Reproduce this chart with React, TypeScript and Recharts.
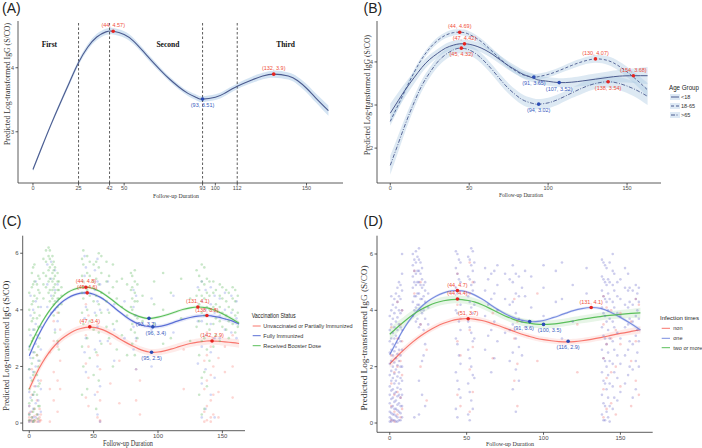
import React from 'react';
import { ComposedChart, XAxis, YAxis, Line, Area, Scatter, ReferenceLine } from 'recharts';

const W = 702;
const H = 448;
const SANS = "'Liberation Sans', Arial, sans-serif";
const SERIF = "'Liberation Serif', 'Times New Roman', serif";

// ---------------- Panel A ----------------
const xA = [0, 5, 10, 15, 20, 25, 30, 35, 40, 44, 50, 55, 60, 65, 70, 75, 80, 85, 90, 93, 100, 105, 112, 120, 126, 132, 140, 145, 150, 155, 162];
const aFit = [2.41, 2.77, 3.12, 3.45, 3.77, 4.08, 4.32, 4.48, 4.56, 4.57, 4.52, 4.42, 4.27, 4.11, 3.96, 3.82, 3.7, 3.6, 3.53, 3.51, 3.54, 3.6, 3.71, 3.81, 3.87, 3.9, 3.87, 3.8, 3.68, 3.53, 3.33];
const aSe = [0.03, 0.03, 0.03, 0.035, 0.04, 0.04, 0.045, 0.05, 0.05, 0.05, 0.05, 0.05, 0.045, 0.045, 0.04, 0.04, 0.04, 0.04, 0.045, 0.045, 0.045, 0.045, 0.045, 0.05, 0.05, 0.055, 0.055, 0.06, 0.065, 0.07, 0.08];
const aCutpoints = [25, 42, 93, 112];
const aXTicks = [0, 25, 42, 50, 93, 100, 112, 150];
const aYTicks = [3, 4];
const aPeaks = [[44, 4.57], [132, 3.9]];
const aTroughs = [[93, 3.51]];
const aPhaseNames = ['First', 'Second', 'Third'];
const aPhaseX = [9, 74, 138.5];
const aPhaseY = 4.36;

// ---------------- Panel B ----------------
const xB = [0, 5, 10, 15, 20, 25, 30, 35, 40, 44, 47, 50, 55, 60, 65, 70, 75, 80, 85, 91, 94, 100, 107, 115, 122, 130, 138, 145, 154, 163];
const bYoung = [2.81, 3.1, 3.38, 3.63, 3.87, 4.06, 4.2, 4.32, 4.39, 4.42, 4.42, 4.41, 4.36, 4.28, 4.17, 4.04, 3.91, 3.8, 3.7, 3.62, 3.58, 3.55, 3.52, 3.53, 3.56, 3.6, 3.64, 3.67, 3.68, 3.68];
const bYoungSe = [0.22, 0.19, 0.16, 0.14, 0.12, 0.11, 0.1, 0.1, 0.1, 0.1, 0.1, 0.1, 0.1, 0.1, 0.1, 0.1, 0.1, 0.1, 0.1, 0.1, 0.1, 0.1, 0.1, 0.11, 0.12, 0.13, 0.14, 0.15, 0.17, 0.2];
const bAdult = [2.62, 3.0, 3.38, 3.75, 4.07, 4.32, 4.5, 4.62, 4.68, 4.69, 4.68, 4.64, 4.54, 4.4, 4.23, 4.06, 3.9, 3.78, 3.69, 3.65, 3.66, 3.71, 3.8, 3.92, 4.01, 4.07, 4.03, 3.9, 3.65, 3.35];
const bAdultSe = [0.1, 0.09, 0.08, 0.07, 0.07, 0.07, 0.07, 0.07, 0.07, 0.07, 0.07, 0.07, 0.07, 0.07, 0.07, 0.07, 0.07, 0.07, 0.07, 0.07, 0.07, 0.07, 0.07, 0.08, 0.08, 0.09, 0.1, 0.11, 0.13, 0.16];
const bSenior = [1.6, 2.1, 2.6, 3.05, 3.45, 3.75, 4.0, 4.17, 4.28, 4.32, 4.31, 4.28, 4.17, 4.0, 3.8, 3.58, 3.38, 3.22, 3.1, 3.03, 3.02, 3.05, 3.14, 3.28, 3.4, 3.5, 3.54, 3.5, 3.38, 3.2];
const bSeniorSe = [0.22, 0.19, 0.16, 0.14, 0.13, 0.12, 0.12, 0.12, 0.12, 0.12, 0.12, 0.12, 0.12, 0.12, 0.12, 0.12, 0.12, 0.12, 0.12, 0.12, 0.12, 0.12, 0.12, 0.12, 0.13, 0.13, 0.14, 0.15, 0.17, 0.2];
const bXTicks = [0, 50, 100, 150];
const bYTicks = [2, 3, 4];
const bPeaks = [[44, 4.69], [47, 4.42], [45, 4.32], [130, 4.07], [154, 3.68], [138, 3.54]];
const bTroughs = [[91, 3.65], [107, 3.52], [94, 3.02]];
const bGroups = ['<18', '18-65', '>65'];

// ---------------- Panel C ----------------
const xC = [0, 5, 10, 15, 20, 25, 30, 35, 40, 44, 47, 50, 55, 60, 65, 70, 75, 80, 85, 90, 93, 96, 100, 105, 110, 115, 120, 125, 131, 138, 142, 147, 152, 158, 163];
const cBooster = [2.68, 3.15, 3.57, 3.93, 4.22, 4.45, 4.62, 4.73, 4.79, 4.8, 4.79, 4.75, 4.65, 4.5, 4.33, 4.15, 3.99, 3.86, 3.77, 3.71, 3.7, 3.71, 3.74, 3.8, 3.87, 3.95, 4.02, 4.07, 4.1, 4.07, 4.02, 3.93, 3.82, 3.67, 3.53];
const cBoosterSe = [0.09, 0.08, 0.07, 0.06, 0.05, 0.05, 0.05, 0.05, 0.05, 0.05, 0.05, 0.05, 0.05, 0.05, 0.05, 0.05, 0.05, 0.05, 0.05, 0.05, 0.05, 0.05, 0.05, 0.05, 0.05, 0.05, 0.05, 0.05, 0.05, 0.05, 0.05, 0.06, 0.06, 0.07, 0.08];
const cFull = [2.38, 2.9, 3.35, 3.73, 4.03, 4.26, 4.42, 4.53, 4.59, 4.6, 4.59, 4.55, 4.45, 4.3, 4.12, 3.93, 3.76, 3.61, 3.5, 3.43, 3.41, 3.4, 3.41, 3.45, 3.52, 3.6, 3.67, 3.73, 3.78, 3.8, 3.78, 3.74, 3.68, 3.6, 3.5];
const cFullSe = [0.1, 0.09, 0.08, 0.07, 0.06, 0.06, 0.06, 0.06, 0.06, 0.06, 0.06, 0.06, 0.06, 0.06, 0.06, 0.06, 0.07, 0.07, 0.07, 0.07, 0.07, 0.07, 0.07, 0.07, 0.07, 0.07, 0.07, 0.07, 0.07, 0.07, 0.07, 0.07, 0.08, 0.08, 0.09];
const cUnvax = [1.2, 1.7, 2.12, 2.47, 2.75, 2.97, 3.13, 3.26, 3.34, 3.38, 3.39, 3.38, 3.33, 3.24, 3.12, 2.98, 2.85, 2.73, 2.62, 2.54, 2.51, 2.5, 2.51, 2.55, 2.61, 2.68, 2.75, 2.81, 2.86, 2.9, 2.9, 2.89, 2.87, 2.84, 2.81];
const cUnvaxSe = [0.16, 0.15, 0.14, 0.13, 0.12, 0.12, 0.12, 0.12, 0.12, 0.12, 0.12, 0.12, 0.12, 0.12, 0.12, 0.12, 0.12, 0.12, 0.12, 0.12, 0.12, 0.12, 0.12, 0.12, 0.13, 0.13, 0.13, 0.13, 0.13, 0.13, 0.13, 0.13, 0.14, 0.14, 0.15];
const cXTicks = [0, 50, 100, 150];
const cYTicks = [0, 2, 4, 6];
const cPeaks = [[44, 4.8], [45, 4.6], [47, 3.4], [131, 4.1], [138, 3.8], [142, 2.9]];
const cTroughs = [[93, 3.7], [96, 3.4], [95, 2.5]];
const cStatuses = ['Unvaccinated or Partially Immunized', 'Fully Immunized', 'Received Booster Dose'];
const cGreenCols: [number, number[]][] = [
  [0, [0.1, 0.3, 0.7, 1.2, 1.9, 2.6, 3.3, 4.0, 4.6]],
  [2, [0.2, 0.8, 1.5, 2.1, 2.9, 3.6, 4.2, 4.8, 5.3]],
  [3, [0.05, 0.4, 1.0, 1.7, 2.3, 3.0, 3.7, 4.3, 4.9, 5.5]],
  [4, [0.1, 0.5, 1.1, 1.8, 2.5, 3.3, 3.9, 4.5, 5.0, 5.6]],
  [6, [0.3, 1.0, 1.7, 2.4, 3.1, 3.7, 4.4, 4.9]],
  [7, [0.15, 0.6, 1.3, 2.0, 2.7, 3.4, 4.1, 4.7, 5.2]],
  [8, [0.6, 1.4, 2.2, 3.0, 3.8, 4.6, 5.1]],
  [11, [4.4, 4.9, 5.3, 5.8]],
  [13, [4.8, 5.2, 5.7, 6.1]],
  [15, [4.6, 5.0, 5.4, 5.9, 6.2]],
  [16, [4.3, 4.7, 5.1, 5.5, 5.8, 6.1]],
  [18, [4.4, 4.7, 5.0, 5.3, 5.6, 5.9]],
  [19, [3.8, 4.2, 4.5, 4.8, 5.1, 5.4, 5.7]],
  [20, [3.2, 4.3, 4.6, 4.9, 5.2, 5.5]],
  [22, [2.9, 4.1, 4.4, 4.7, 5.0, 5.3]],
  [23, [2.6, 3.9, 4.4, 4.7, 5.0]],
  [25, [4.2, 4.5, 4.8]],
  [41, [1.0, 2.7, 3.9, 4.6, 5.2, 5.8]],
  [42, [2.0, 3.5, 4.4, 5.0, 5.6, 6.1]],
  [45, [1.2, 3.0, 4.0, 4.7, 5.3, 5.9]],
  [47, [2.3, 3.6, 4.5, 5.2, 5.7]],
  [50, [1.7, 3.3, 4.3, 5.0, 5.6]],
  [52, [0.5, 2.5, 3.8, 4.5, 5.1, 5.7]],
  [54, [1.5, 3.2, 4.2, 4.9, 5.5, 6.0]],
  [56, [2.8, 3.9, 4.6, 5.3, 5.9]],
  [60, [3.4, 4.3, 5.0, 5.7]],
  [62, [3.0, 3.9, 4.6, 5.2]],
  [65, [2.0, 3.5, 4.8, 5.6]],
  [68, [2.6, 3.6, 4.4, 5.0]],
  [72, [3.1, 4.1, 5.1]],
  [76, [2.4, 3.8, 4.9]],
  [79, [3.3, 4.1, 4.7, 5.3]],
  [80, [2.8, 3.5, 4.0, 4.4, 4.8, 5.2]],
  [82, [2.4, 3.2, 3.8, 4.3, 4.6, 5.0, 5.4]],
  [84, [3.0, 3.7, 4.3, 4.9]],
  [88, [3.6, 4.5]],
  [97, [3.5, 4.2, 5.0]],
  [104, [2.8, 4.0, 5.3]],
  [110, [3.0, 4.6]],
  [118, [3.7, 5.1]],
  [125, [2.9, 4.4]],
  [130, [3.4, 4.5, 5.4]],
  [132, [1.0, 2.4, 3.6, 4.2, 4.7, 5.2]],
  [134, [0.3, 1.6, 2.9, 3.9, 4.5, 5.0, 5.6]],
  [136, [0.5, 1.8, 3.0, 3.8, 4.4, 4.9, 5.5]],
  [138, [1.3, 2.6, 3.5, 4.1, 4.6, 5.1]],
  [140, [2.2, 3.3, 4.0, 4.5, 5.0]],
  [143, [2.7, 3.5, 4.1, 4.6, 5.0]],
  [145, [3.1, 3.7, 4.2, 4.7]],
  [148, [2.9, 3.6, 4.1, 4.5, 4.9]],
  [150, [3.4, 3.9, 4.4, 4.8]],
  [153, [3.3, 3.8, 4.3, 4.7]],
  [155, [3.0, 3.6, 4.1, 4.6]],
  [158, [3.5, 4.0, 4.4, 4.8]],
  [160, [3.2, 3.8, 4.3, 4.7]],
  [162, [3.4, 3.9, 4.5]],
];
const cBlueCols: [number, number[]][] = [
  [0, [0.05, 0.3, 0.6, 1.1, 1.9, 2.7]],
  [1, [0.1, 0.4, 0.9, 1.6, 2.3, 3.1, 3.8, 4.5]],
  [3, [0.05, 0.2, 0.5, 1.0, 1.8, 2.5, 3.3, 4.0]],
  [5, [0.2, 0.7, 1.3, 2.0, 2.8, 3.5, 4.3, 5.0]],
  [7, [0.05, 0.3, 0.8, 1.5, 2.2]],
  [9, [0.4, 1.2, 2.6, 3.4, 4.1]],
  [14, [4.1, 4.9, 5.6]],
  [17, [3.9, 4.5, 5.1, 5.7]],
  [20, [3.3, 4.0, 4.7, 5.4]],
  [22, [2.8, 3.6, 4.3, 4.9]],
  [43, [2.5, 3.7, 4.6, 5.2, 5.9]],
  [44, [1.8, 3.0, 4.1, 4.8, 5.5]],
  [51, [1.0, 2.6, 3.9, 4.7, 5.4]],
  [53, [0.3, 2.0, 3.4, 4.3, 5.0, 5.8]],
  [55, [0.05, 1.3, 2.9, 4.0, 4.9]],
  [61, [2.9, 4.0, 5.0]],
  [66, [2.2, 3.3, 4.2]],
  [74, [3.0, 4.3]],
  [81, [2.6, 3.4, 4.1, 4.7]],
  [83, [1.9, 3.0, 3.8, 4.5]],
  [95, [2.0, 3.3, 4.4]],
  [112, [3.2, 4.5]],
  [131, [2.1, 3.6, 4.8]],
  [134, [0.2, 1.4, 2.7, 3.6, 4.3, 5.0]],
  [137, [0.5, 1.9, 3.1, 4.0, 4.7]],
  [141, [1.0, 2.5, 3.5, 4.2, 4.8]],
  [144, [0.2, 1.6, 3.0, 3.9, 4.5]],
  [148, [3.0, 3.8, 4.4]],
  [152, [3.3, 4.0, 4.6]],
  [157, [3.2, 3.9, 4.5]],
  [161, [3.0, 3.7, 4.3]],
];
const cRedCols: [number, number[]][] = [
  [0, [0.05, 0.1, 0.2, 0.35, 0.6]],
  [2, [0.05, 0.1, 0.2, 0.4, 1.0, 1.9]],
  [4, [0.05, 0.1, 0.25, 0.5, 1.3]],
  [6, [0.05, 0.15, 0.3, 0.8, 2.4]],
  [8, [0.05, 0.1, 0.2, 0.5]],
  [9, [0.1, 0.3, 1.5]],
  [16, [0.05, 1.2, 2.5]],
  [19, [0.8, 1.8, 2.9, 3.6]],
  [22, [0.4, 1.5, 2.7, 3.9]],
  [24, [1.2, 2.2, 3.3]],
  [44, [0.9, 2.1, 3.1, 4.2]],
  [46, [0.6, 1.6, 2.7, 3.8]],
  [53, [0.2, 1.1, 2.4, 3.5]],
  [55, [0.05, 0.1, 0.8, 1.9]],
  [63, [1.4, 2.8]],
  [70, [0.7, 2.2]],
  [83, [0.8, 1.9, 2.9]],
  [86, [0.3, 1.5]],
  [120, [1.2, 2.6]],
  [136, [0.05, 0.4, 1.2, 2.2]],
  [138, [0.1, 0.6, 1.5, 2.4, 3.2]],
  [141, [0.05, 0.2, 0.8, 1.7, 2.7]],
  [143, [0.3, 1.0, 2.0, 3.0]],
  [147, [0.2, 1.1, 2.3]],
  [152, [1.8, 2.7]],
  [158, [0.9, 2.0, 3.1]],
];

// ---------------- Panel D ----------------
const xD = [0, 5, 10, 15, 20, 25, 30, 35, 40, 44, 47, 51, 55, 60, 65, 70, 75, 80, 85, 91, 95, 100, 105, 110, 116, 120, 125, 131, 137, 143, 150, 157, 163];
const dOne = [2.42, 2.95, 3.42, 3.8, 4.1, 4.33, 4.5, 4.62, 4.69, 4.7, 4.69, 4.64, 4.55, 4.4, 4.22, 4.04, 3.88, 3.75, 3.66, 3.6, 3.6, 3.64, 3.72, 3.81, 3.93, 4.0, 4.06, 4.1, 4.07, 3.95, 3.75, 3.52, 3.3];
const dOneSe = [0.08, 0.07, 0.06, 0.06, 0.05, 0.05, 0.05, 0.05, 0.05, 0.05, 0.05, 0.05, 0.05, 0.05, 0.05, 0.05, 0.05, 0.05, 0.05, 0.05, 0.05, 0.05, 0.05, 0.05, 0.05, 0.05, 0.05, 0.05, 0.05, 0.05, 0.06, 0.07, 0.08];
const dTwo = [3.15, 3.4, 3.63, 3.84, 4.02, 4.16, 4.27, 4.34, 4.38, 4.39, 4.38, 4.35, 4.3, 4.2, 4.07, 3.93, 3.8, 3.69, 3.6, 3.54, 3.51, 3.5, 3.51, 3.54, 3.59, 3.63, 3.68, 3.73, 3.78, 3.82, 3.86, 3.89, 3.91];
const dTwoSe = [0.22, 0.2, 0.18, 0.16, 0.15, 0.14, 0.14, 0.14, 0.14, 0.14, 0.14, 0.14, 0.14, 0.14, 0.14, 0.14, 0.14, 0.14, 0.14, 0.14, 0.14, 0.14, 0.14, 0.14, 0.14, 0.14, 0.14, 0.14, 0.14, 0.14, 0.15, 0.16, 0.18];
const dNon = [2.1, 2.38, 2.64, 2.88, 3.09, 3.27, 3.42, 3.54, 3.63, 3.68, 3.7, 3.71, 3.69, 3.64, 3.56, 3.47, 3.37, 3.27, 3.17, 3.07, 3.01, 2.96, 2.92, 2.89, 2.88, 2.89, 2.92, 2.97, 3.03, 3.1, 3.18, 3.25, 3.31];
const dNonSe = [0.14, 0.13, 0.12, 0.11, 0.1, 0.1, 0.1, 0.1, 0.1, 0.1, 0.1, 0.1, 0.1, 0.1, 0.1, 0.1, 0.1, 0.1, 0.1, 0.1, 0.1, 0.1, 0.1, 0.1, 0.1, 0.1, 0.1, 0.1, 0.1, 0.11, 0.11, 0.12, 0.13];
const dXTicks = [0, 50, 100, 150];
const dYTicks = [0, 2, 4, 6];
const dPeaks = [[44, 4.7], [44, 4.4], [51, 3.7], [131, 4.1]];
const dTroughs = [[91, 3.6], [100, 3.5], [116, 2.9]];
const dTimes = ['non', 'one', 'two or more'];
const dBlueCols: [number, number[]][] = [
  [0, [0.05, 0.2, 0.4, 0.7, 1.0, 1.3, 1.7, 2.1, 2.5, 2.9, 3.3, 3.8]],
  [1, [0.05, 0.15, 0.35, 0.55, 0.85, 1.15, 1.5, 1.85, 2.2, 2.6, 3.0, 3.5, 4.0, 4.5]],
  [2, [0.1, 0.3, 0.6, 0.9, 1.2, 1.6, 2.0, 2.4, 2.8, 3.2, 3.7, 4.2]],
  [3, [0.1, 0.3, 0.5, 0.75, 1.05, 1.4, 1.75, 2.15, 2.55, 3.0, 3.4, 3.9, 4.4]],
  [4, [0.05, 0.25, 0.5, 0.8, 1.1, 1.5, 1.9, 2.3, 2.7, 3.1, 3.6, 4.1, 4.6]],
  [5, [0.05, 0.2, 0.45, 0.65, 0.95, 1.25, 1.65, 2.05, 2.45, 2.85, 3.3, 3.75, 4.3, 4.8]],
  [6, [0.1, 0.4, 0.7, 1.0, 1.4, 1.8, 2.2, 2.6, 3.0, 3.5, 4.0, 4.5, 5.0]],
  [7, [0.1, 0.35, 0.6, 0.9, 1.2, 1.6, 2.0, 2.4, 2.9, 3.4, 3.9, 4.4, 4.9]],
  [8, [0.2, 0.6, 1.0, 1.5, 2.0, 2.6, 3.3, 4.0, 4.7, 5.3, 6.0]],
  [15, [3.8, 4.3, 4.8, 5.2, 5.6, 6.0]],
  [16, [0.2, 4.0, 4.5, 5.0, 5.4, 5.8]],
  [17, [3.6, 4.1, 4.5, 4.9, 5.3, 5.7, 6.1]],
  [18, [3.7, 4.2, 4.6, 5.0, 5.4, 5.9]],
  [19, [0.3, 1.5, 3.4, 4.2, 4.6, 5.0, 5.4, 5.8, 6.2]],
  [20, [3.5, 4.0, 4.4, 4.9, 5.3, 5.7]],
  [21, [1.0, 2.2, 3.9, 4.4, 4.8, 5.1, 5.5]],
  [22, [2.4, 3.3, 4.0, 4.5, 4.9]],
  [23, [0.6, 2.8, 3.7, 4.3, 4.7, 5.0]],
  [25, [3.5, 4.1, 4.6]],
  [43, [0.5, 1.8, 3.0, 4.0, 4.8, 5.5, 6.1]],
  [44, [0.2, 1.5, 2.8, 3.9, 4.6, 5.3, 6.0]],
  [45, [1.2, 2.4, 3.6, 4.4, 5.1, 5.8]],
  [46, [0.9, 2.1, 3.3, 4.2, 5.0, 5.7]],
  [51, [0.3, 1.4, 2.6, 3.6, 4.5, 5.2, 5.9]],
  [52, [0.1, 1.1, 2.3, 3.4, 4.3, 5.1, 5.8]],
  [53, [0.8, 2.0, 3.2, 4.1, 4.9, 5.6, 6.2]],
  [54, [0.5, 1.7, 2.9, 3.9, 4.7, 5.4, 6.1]],
  [55, [1.6, 3.0, 4.2, 5.0, 5.7]],
  [62, [2.6, 3.8, 4.7, 5.5]],
  [64, [3.1, 4.2, 5.1]],
  [66, [1.8, 3.3, 4.4, 5.3]],
  [68, [2.3, 3.6, 4.6, 5.4]],
  [70, [2.9, 4.0, 4.9, 5.6]],
  [75, [3.2, 4.4, 5.3]],
  [78, [2.2, 3.3, 4.2, 5.1]],
  [80, [1.2, 2.5, 3.5, 4.3, 5.0, 5.6]],
  [82, [0.4, 1.9, 3.0, 3.9, 4.6, 5.3]],
  [84, [1.5, 2.7, 3.7, 4.5, 5.2]],
  [86, [2.4, 3.6, 4.8]],
  [88, [3.4, 4.5, 5.4]],
  [92, [4.1, 5.2]],
  [100, [3.8, 4.8, 5.6]],
  [108, [4.3, 5.4]],
  [112, [3.0, 4.4, 5.7]],
  [119, [3.6, 4.9]],
  [128, [4.6, 5.5]],
  [138, [0.3, 1.0, 1.8, 2.6, 3.4, 4.1, 4.7, 5.2, 5.8]],
  [139, [0.1, 0.7, 1.5, 2.3, 3.1, 3.9, 4.5, 5.1, 5.7]],
  [140, [0.1, 0.6, 1.4, 2.2, 3.0, 3.8, 4.4, 5.0, 5.6]],
  [141, [0.4, 1.2, 2.0, 2.8, 3.6, 4.3, 4.9, 5.5]],
  [142, [0.2, 0.9, 1.7, 2.5, 3.3, 4.0, 4.6, 5.1]],
  [143, [0.05, 0.6, 1.4, 2.2, 3.0, 3.7, 4.4, 5.0, 5.7]],
  [145, [0.5, 1.3, 2.1, 2.9, 3.6, 4.3, 4.9, 5.4, 6.0]],
  [146, [0.9, 1.8, 2.6, 3.4, 4.1, 4.7, 5.3]],
  [148, [0.8, 1.6, 2.4, 3.2, 3.9, 4.5, 5.0]],
  [150, [1.1, 2.1, 3.0, 3.8, 4.4, 5.1]],
  [153, [1.4, 2.4, 3.4, 4.2, 4.8, 5.5]],
  [155, [1.7, 2.6, 3.5, 4.1, 4.7, 5.3]],
  [156, [2.0, 2.9, 3.7, 4.3, 4.8]],
  [158, [0.9, 1.9, 2.8, 3.6, 4.2, 4.7]],
  [160, [1.2, 2.2, 3.1, 3.8, 4.4, 4.9]],
  [161, [2.5, 3.3, 4.0, 4.6]],
  [162, [2.0, 2.9, 3.7, 4.3, 4.8]],
];
const dRedCols: [number, number[]][] = [
  [1, [0.1, 0.6, 1.4, 2.4, 3.4]],
  [3, [0.05, 0.4, 1.0, 1.8]],
  [5, [0.3, 1.1, 2.0, 3.0, 4.3]],
  [7, [0.2, 0.9, 2.2, 3.5]],
  [8, [0.5, 1.7, 2.9, 4.0]],
  [16, [4.6, 5.4]],
  [20, [2.0, 3.5, 5.0]],
  [24, [0.8, 2.6]],
  [44, [1.0, 2.9, 4.2, 5.3]],
  [46, [0.6, 2.4, 3.7]],
  [52, [0.4, 1.9, 3.3, 4.6, 5.7]],
  [54, [1.1, 2.7, 5.0]],
  [67, [2.3, 3.9]],
  [81, [1.5, 3.0, 4.4]],
  [83, [0.6, 2.1, 3.6]],
  [96, [2.2, 4.6]],
  [122, [1.8, 3.5]],
  [139, [0.2, 1.2, 2.3, 3.5, 4.5]],
  [141, [0.5, 1.6, 2.8, 4.1]],
  [144, [0.7, 1.8, 3.0, 4.0]],
  [147, [0.3, 2.0, 3.3]],
  [150, [1.3, 2.8, 3.9]],
  [157, [0.6, 2.2, 3.6]],
  [160, [1.5, 2.9, 4.4]],
  [162, [1.0, 4.2]],
];

// ---------------- helpers ----------------
const buildRows = (xs: number[], series: Record<string, [number[], number[]]>) =>
  xs.map((x, i) => {
    const row: any = { x };
    Object.entries(series).forEach(([k, [fit, se]]) => {
      row[k] = fit[i];
      row[k + 'Band'] = [fit[i] - se[i], fit[i] + se[i]];
    });
    return row;
  });
const flatten = (cols: [number, number[]][]) => cols.flatMap(([x, ys]) => ys.map((y) => ({ x, y })));
const markRows = (pts: number[][]) => pts.map(([x, y], i) => ({ x, y, i, label: `(${x}, ${y})` }));

const rowsA = buildRows(xA, { fit: [aFit, aSe] });
const rowsB = buildRows(xB, { young: [bYoung, bYoungSe], adult: [bAdult, bAdultSe], senior: [bSenior, bSeniorSe] });
const rowsC = buildRows(xC, { booster: [cBooster, cBoosterSe], full: [cFull, cFullSe], unvax: [cUnvax, cUnvaxSe] });
const rowsD = buildRows(xD, { one: [dOne, dOneSe], two: [dTwo, dTwoSe], non: [dNon, dNonSe] });
const phaseRows = aPhaseNames.map((name, i) => ({ x: aPhaseX[i], y: aPhaseY, name }));

// ---------------- styles ----------------
const AX = '#333333';
const PEAK = '#E52420';
const TROUGH = '#2B4CB5';
const PEAK_TXT = '#F0503C';
const TROUGH_TXT = '#3A5BC0';
const NAVY = '#4B5A8E';
const RED = '#F8766D';
const BLUE_C = '#5B6FD6';
const GREEN = '#5BBF5B';
const BLUE_D = '#7A8EE0';
const bBelowPeaks = [false, false, true, false, false, true];
const cTroughDx = [-3, 3, 0];
const dTroughDx = [-6, 6, 0];

const markShape = (dot: string, txt: string, below: (i: number) => boolean, fs: number, dxs?: number[]) => (p: any) => {
  const { cx, cy, payload } = p;
  if (cx == null || cy == null) return <g />;
  const b = below(payload.i);
  const dx = dxs ? dxs[payload.i] || 0 : 0;
  return (
    <g>
      <circle cx={cx} cy={cy} r={1.8} fill={dot} />
      <text x={cx + dx} y={b ? cy + 8 : cy - 4} textAnchor="middle" fontSize={fs} fill={txt} fontFamily={SANS}>
        {payload.label}
      </text>
    </g>
  );
};
const pointShape = (fill: string, op: number) => (p: any) =>
  p.cx == null ? <g /> : <circle cx={p.cx} cy={p.cy} r={1.3} fill={fill} fillOpacity={op} />;

const tickStyle = (fs: number) => ({ fontSize: fs, fill: '#4D4D4D', fontFamily: SANS });

const axisX = (domain: number[], ticks: number[], fs: number, height = 16) => (
  <XAxis
    type="number"
    dataKey="x"
    domain={domain}
    ticks={ticks}
    interval={0}
    allowDataOverflow
    height={height}
    tickSize={2.5}
    tickMargin={0.5}
    axisLine={{ stroke: AX, strokeWidth: 0.8 }}
    tickLine={{ stroke: AX, strokeWidth: 0.8 }}
    tick={tickStyle(fs)}
  />
);
const axisY = (domain: number[], ticks: number[], fs: number) => (
  <YAxis
    type="number"
    domain={domain}
    ticks={ticks}
    interval={0}
    allowDataOverflow
    width={16}
    tickSize={2.5}
    tickMargin={1.5}
    axisLine={{ stroke: AX, strokeWidth: 0.8 }}
    tickLine={{ stroke: AX, strokeWidth: 0.8 }}
    tick={tickStyle(fs)}
  />
);

const layer: React.CSSProperties = { position: 'absolute', left: 0, top: 0 };

function PanelA() {
  return (
    <div style={layer}>
      <ComposedChart width={W} height={H} data={rowsA} margin={{ left: 2, top: 21, right: 359, bottom: 249 }}>
        {axisX([-8.2, 170], aXTicks, 5.5)}
        {axisY([2.2, 4.73], aYTicks, 5.5)}
        {aCutpoints.map((c) => (
          <ReferenceLine key={c} x={c} stroke={AX} strokeWidth={0.8} strokeDasharray="2.5 2" />
        ))}
        <Area type="natural" dataKey="fitBand" stroke="none" fill="#C6DBEF" fillOpacity={0.75} isAnimationActive={false} />
        <Line type="natural" dataKey="fit" stroke={NAVY} strokeWidth={1.1} dot={false} isAnimationActive={false} />
        <Scatter
          data={phaseRows}
          dataKey="y"
          isAnimationActive={false}
          shape={(p: any) => (
            <text x={p.cx} y={p.cy} textAnchor="middle" dominantBaseline="central" fontSize={7.5} fontWeight="bold" fontFamily={SERIF} fill="#111">
              {p.payload.name}
            </text>
          )}
        />
        <Scatter data={markRows(aPeaks)} dataKey="y" isAnimationActive={false} shape={markShape(PEAK, PEAK_TXT, () => false, 5.5)} />
        <Scatter data={markRows(aTroughs)} dataKey="y" isAnimationActive={false} shape={markShape(TROUGH, TROUGH_TXT, () => true, 5.5)} />
      </ComposedChart>
    </div>
  );
}

function PanelB() {
  return (
    <div style={layer}>
      <ComposedChart width={W} height={H} data={rowsB} margin={{ left: 361, top: 21, right: 41, bottom: 249 }}>
        {axisX([-8.4, 171.5], bXTicks, 5.5)}
        {axisY([1.19, 4.95], bYTicks, 5.5)}
        <Area type="natural" dataKey="youngBand" stroke="none" fill="#A9C8E0" fillOpacity={0.4} isAnimationActive={false} />
        <Area type="natural" dataKey="adultBand" stroke="none" fill="#A9C8E0" fillOpacity={0.4} isAnimationActive={false} />
        <Area type="natural" dataKey="seniorBand" stroke="none" fill="#A9C8E0" fillOpacity={0.4} isAnimationActive={false} />
        <Line type="natural" dataKey="young" stroke={NAVY} strokeWidth={1} dot={false} isAnimationActive={false} />
        <Line type="natural" dataKey="adult" stroke={NAVY} strokeWidth={0.9} strokeDasharray="3 2" dot={false} isAnimationActive={false} />
        <Line type="natural" dataKey="senior" stroke={NAVY} strokeWidth={0.9} strokeDasharray="4 1.5 1 1.5" dot={false} isAnimationActive={false} />
        <Scatter data={markRows(bPeaks)} dataKey="y" isAnimationActive={false} shape={markShape(PEAK, PEAK_TXT, (i) => bBelowPeaks[i], 5.5)} />
        <Scatter data={markRows(bTroughs)} dataKey="y" isAnimationActive={false} shape={markShape(TROUGH, TROUGH_TXT, () => true, 5.5)} />
      </ComposedChart>
    </div>
  );
}

function PanelC() {
  return (
    <div style={layer}>
      <ComposedChart width={W} height={H} data={rowsC} margin={{ left: 6.7, top: 235.7, right: 457, bottom: 1.3 }}>
        {axisX([-5.1, 167.6], cXTicks, 6)}
        {axisY([-0.27, 6.62], cYTicks, 6)}
        <Scatter data={flatten(cRedCols)} dataKey="y" isAnimationActive={false} shape={pointShape(RED, 0.3)} />
        <Scatter data={flatten(cBlueCols)} dataKey="y" isAnimationActive={false} shape={pointShape('#6A7FE0', 0.3)} />
        <Scatter data={flatten(cGreenCols)} dataKey="y" isAnimationActive={false} shape={pointShape('#4CB04C', 0.3)} />
        <Area type="natural" dataKey="unvaxBand" stroke="none" fill={RED} fillOpacity={0.15} isAnimationActive={false} />
        <Area type="natural" dataKey="fullBand" stroke="none" fill={BLUE_C} fillOpacity={0.15} isAnimationActive={false} />
        <Area type="natural" dataKey="boosterBand" stroke="none" fill={GREEN} fillOpacity={0.15} isAnimationActive={false} />
        <Line type="natural" dataKey="unvax" stroke={RED} strokeWidth={1.2} dot={false} isAnimationActive={false} />
        <Line type="natural" dataKey="full" stroke={BLUE_C} strokeWidth={1.2} dot={false} isAnimationActive={false} />
        <Line type="natural" dataKey="booster" stroke={GREEN} strokeWidth={1.2} dot={false} isAnimationActive={false} />
        <Scatter data={markRows(cPeaks)} dataKey="y" isAnimationActive={false} shape={markShape(PEAK, PEAK_TXT, () => false, 5.5)} />
        <Scatter data={markRows(cTroughs)} dataKey="y" isAnimationActive={false} shape={markShape(TROUGH, TROUGH_TXT, () => true, 5.5, cTroughDx)} />
      </ComposedChart>
    </div>
  );
}

function PanelD() {
  return (
    <div style={layer}>
      <ComposedChart width={W} height={H} data={rowsD} margin={{ left: 361, top: 235.7, right: 49.3, bottom: 1.7 }}>
        {axisX([-8.3, 171], dXTicks, 6, 14)}
        {axisY([-0.33, 6.65], dYTicks, 6)}
        <Scatter data={flatten(dRedCols)} dataKey="y" isAnimationActive={false} shape={pointShape('#F06060', 0.3)} />
        <Scatter data={flatten(dBlueCols)} dataKey="y" isAnimationActive={false} shape={pointShape('#4B4BC0', 0.28)} />
        <Area type="natural" dataKey="nonBand" stroke="none" fill={RED} fillOpacity={0.15} isAnimationActive={false} />
        <Area type="natural" dataKey="oneBand" stroke="none" fill={BLUE_D} fillOpacity={0.15} isAnimationActive={false} />
        <Area type="natural" dataKey="twoBand" stroke="none" fill={GREEN} fillOpacity={0.15} isAnimationActive={false} />
        <Line type="natural" dataKey="non" stroke={RED} strokeWidth={1.2} dot={false} isAnimationActive={false} />
        <Line type="natural" dataKey="one" stroke={BLUE_D} strokeWidth={1.2} dot={false} isAnimationActive={false} />
        <Line type="natural" dataKey="two" stroke={GREEN} strokeWidth={1.2} dot={false} isAnimationActive={false} />
        <Scatter data={markRows(dPeaks)} dataKey="y" isAnimationActive={false} shape={markShape(PEAK, PEAK_TXT, () => false, 5.5)} />
        <Scatter data={markRows(dTroughs)} dataKey="y" isAnimationActive={false} shape={markShape(TROUGH, TROUGH_TXT, () => true, 5.5, dTroughDx)} />
      </ComposedChart>
    </div>
  );
}

const yTitle = 'Predicted Log-transformed IgG (S/CO)';
const xTitle = 'Follow-up Duration';

function Overlay() {
  const yT = (cx: number, cy: number, len: number, fs: number) => (
    <text
      x={cx}
      y={cy}
      transform={`rotate(-90 ${cx} ${cy})`}
      textAnchor="middle"
      dominantBaseline="central"
      fontSize={fs}
      fontFamily={SERIF}
      fill="#333"
      textLength={len}
      lengthAdjust="spacingAndGlyphs"
    >
      {yTitle}
    </text>
  );
  const xT = (cx: number, cy: number, len: number, fs: number) => (
    <text x={cx} y={cy} textAnchor="middle" dominantBaseline="central" fontSize={fs} fontFamily={SERIF} fill="#333" textLength={len} lengthAdjust="spacingAndGlyphs">
      {xTitle}
    </text>
  );
  const letter = (x: number, y: number, s: string) => (
    <text x={x} y={y} fontSize={14} fontFamily={SANS} fill="#222">
      {s}
    </text>
  );
  const legTitle = (x: number, y: number, s: string, len: number, fs = 7) => (
    <text x={x} y={y} dominantBaseline="central" fontSize={fs} fontFamily={SANS} fill="#222" textLength={len} lengthAdjust="spacingAndGlyphs">
      {s}
    </text>
  );
  const legItem = (x1: number, x2: number, tx: number, y: number, color: string, s: string, dash?: string) => (
    <g key={s}>
      <line x1={x1} x2={x2} y1={y} y2={y} stroke={color} strokeWidth={1} strokeDasharray={dash} />
      <text x={tx} y={y} dominantBaseline="central" fontSize={5.5} fontFamily={SANS} fill="#333">
        {s}
      </text>
    </g>
  );
  const bDash = [undefined, '3 2', '4 1.5 1 1.5'];
  const cColors = [RED, BLUE_C, GREEN];
  const dColors = [RED, BLUE_D, GREEN];
  const bY = [97, 106, 115];
  const cY = [326, 335.7, 345.7];
  const dY = [328.3, 338.3, 347.7];
  return (
    <svg width={W} height={H} style={{ position: 'absolute', left: 0, top: 0, pointerEvents: 'none' }}>
      {letter(2, 12.5, '(A)')}
      {letter(363.5, 13, '(B)')}
      {letter(2, 226, '(C)')}
      {letter(363.5, 226, '(D)')}
      {yT(7, 84, 122, 7.5)}
      {xT(176, 195.5, 46, 7)}
      {yT(367, 95, 120, 7.5)}
      {xT(521, 195, 44, 7)}
      {yT(7, 345.7, 130, 8)}
      {xT(128, 443.8, 50, 7.5)}
      {yT(364, 338, 145, 9)}
      {xT(510, 444, 48, 7)}
      {legTitle(669, 87, 'Age Group', 30)}
      {bGroups.map((g, i) => (
        <g key={g}>
          <rect x={670} y={bY[i] - 3} width={10} height={6} fill="#C6DBEF" fillOpacity={0.6} />
          {legItem(671, 679, 681, bY[i], NAVY, g, bDash[i])}
        </g>
      ))}
      {legTitle(251.7, 315.7, 'Vaccination Status', 44)}
      {cStatuses.map((s, i) => legItem(252.7, 260.7, 263.3, cY[i], cColors[i], s))}
      {legTitle(660, 317, 'Infection times', 39, 6.2)}
      {dTimes.map((s, i) => legItem(661.7, 670, 673.3, dY[i], dColors[i], s))}
    </svg>
  );
}

export default function App() {
  return (
    <div style={{ position: 'absolute', left: 0, top: 0, width: W, height: H, background: '#fff', overflow: 'hidden' }}>
      <PanelA />
      <PanelB />
      <PanelC />
      <PanelD />
      <Overlay />
    </div>
  );
}
